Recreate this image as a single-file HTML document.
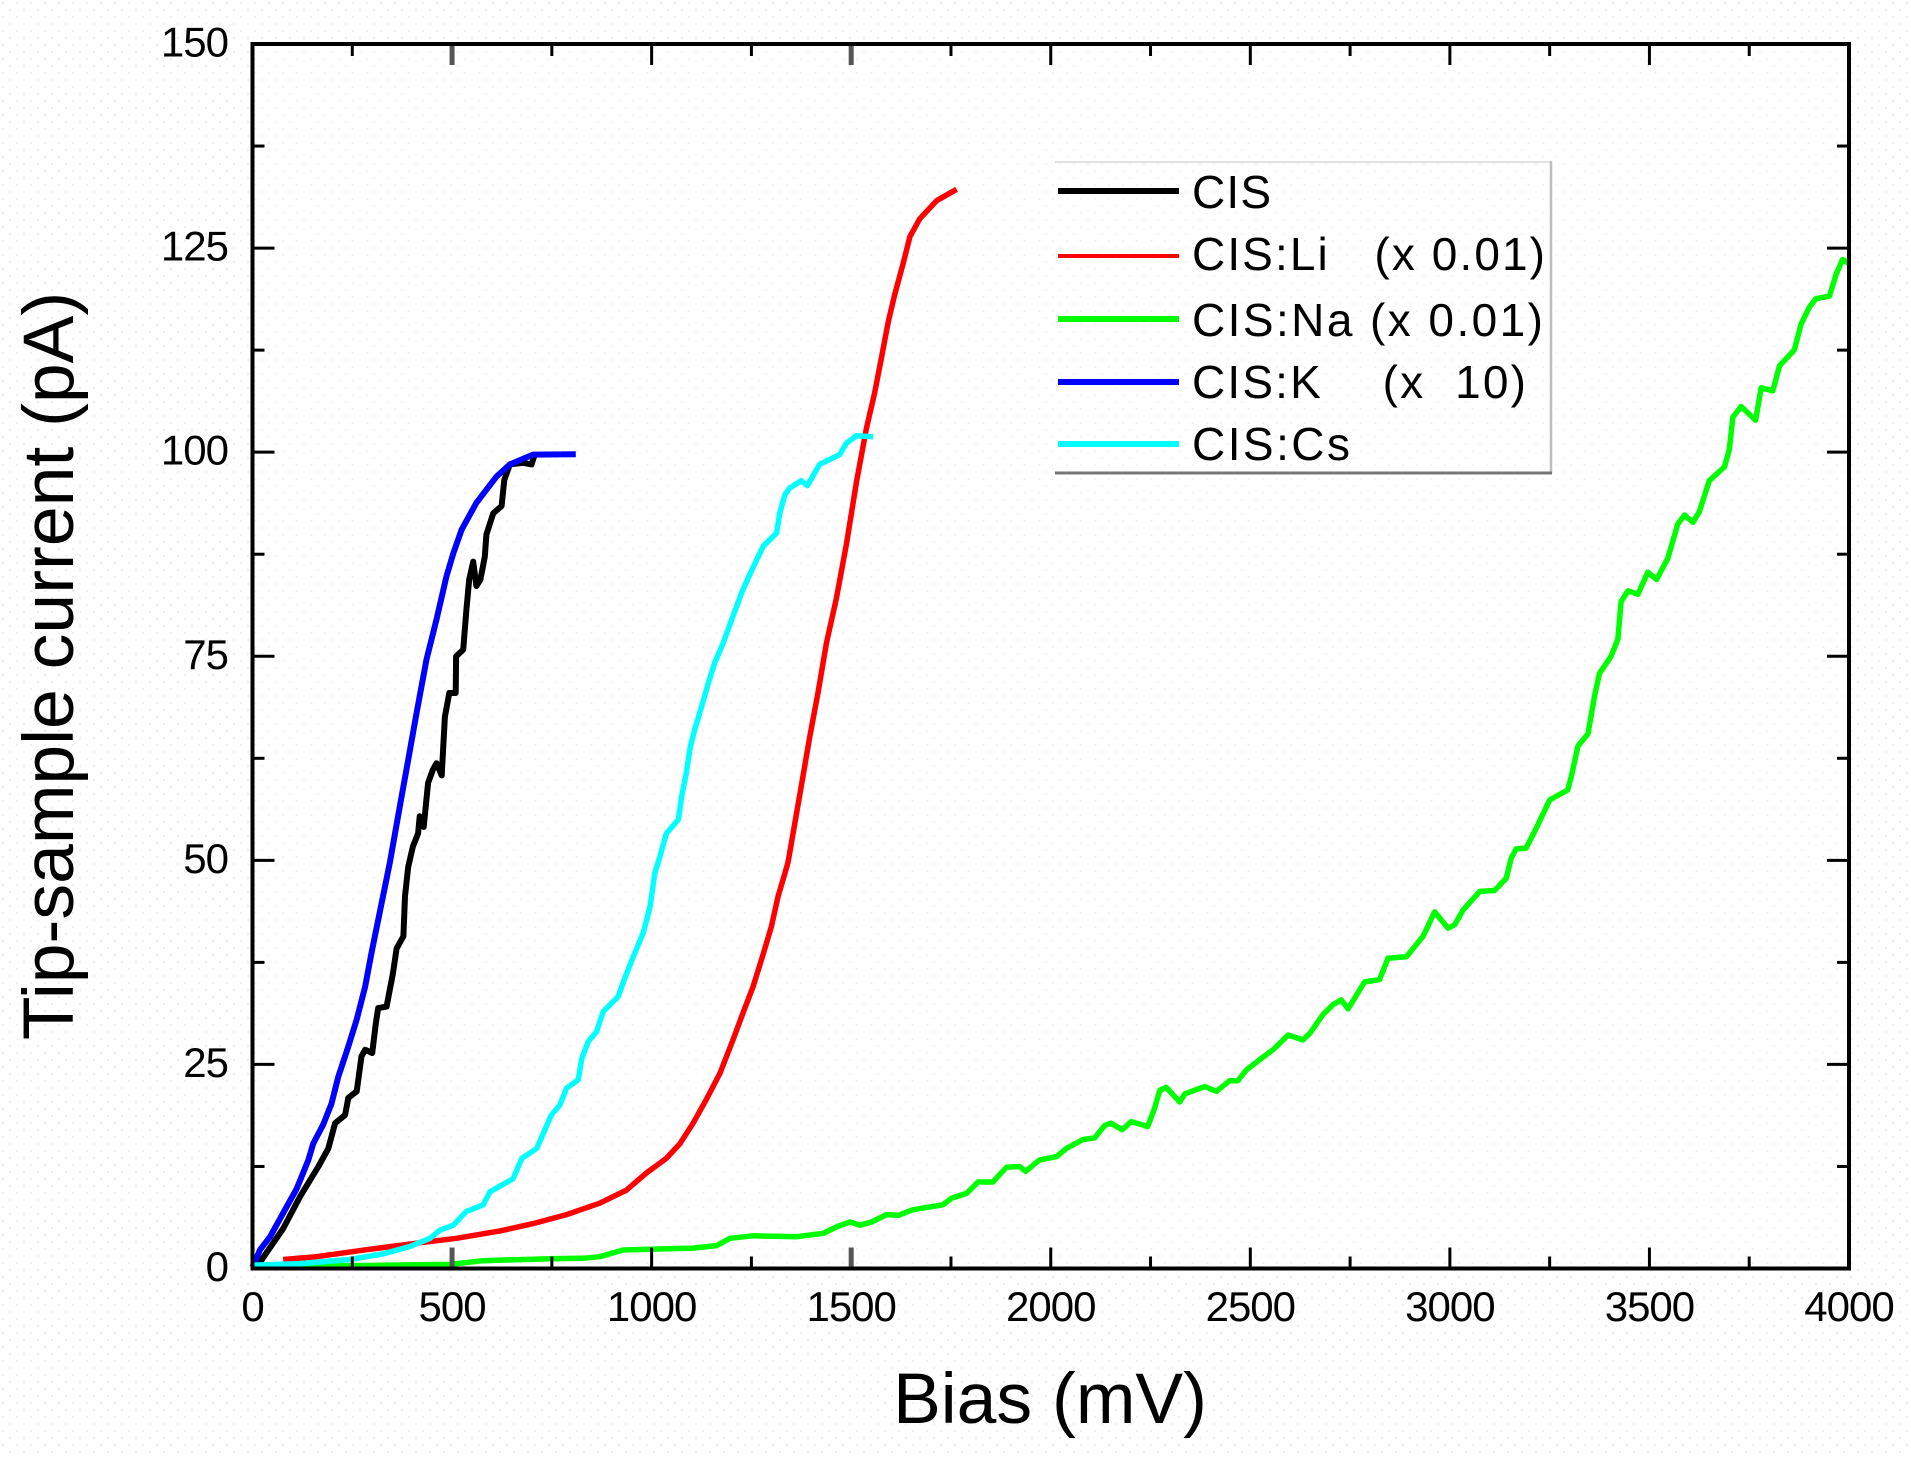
<!DOCTYPE html>
<html lang="en">
<head>
<meta charset="utf-8">
<title>Tip-sample current vs bias</title>
<style>
html,body{margin:0;padding:0;background:#fff;width:1911px;height:1458px;overflow:hidden}
svg{display:block;font-family:"Liberation Sans",sans-serif}
text{fill:#000}
</style>
</head>
<body>
<svg id="chart" xmlns="http://www.w3.org/2000/svg" width="1911" height="1458" viewBox="0 0 1911 1458">
  <defs>
    <pattern id="dots" width="14" height="14" patternUnits="userSpaceOnUse">
      <rect x="2" y="2" width="2" height="2" fill="#eef2f2"/>
      <rect x="9" y="9" width="2" height="2" fill="#f6eeee"/>
    </pattern>
  </defs>
  <rect width="1911" height="1458" fill="#fff"/>
  <rect width="1911" height="1458" fill="url(#dots)"/>
  <rect x="252.5" y="44" width="1596.5" height="1224.5" fill="#fff" fill-opacity="0.4"/>
  <g id="series-layer"></g>
  <g id="axis-layer"></g>
  <text x="1050" y="1423" font-size="71.5" text-anchor="middle">Bias (mV)</text>
  <text transform="translate(73,666) rotate(-90)" font-size="71.5" text-anchor="middle">Tip-sample current (pA)</text>
  <g>
    <line x1="1055" y1="162" x2="1551" y2="162" stroke="#e2e2e2" stroke-width="2"/>
    <line x1="1551" y1="161" x2="1551" y2="473" stroke="#bdbdbd" stroke-width="2.5"/>
    <line x1="1055" y1="473" x2="1552" y2="473" stroke="#777" stroke-width="3"/>
    <g>
      <line x1="1058" y1="191" x2="1179" y2="191" stroke="#000" stroke-width="6"/>
      <text x="1192" y="208" font-size="46" textLength="79" lengthAdjust="spacing" style="white-space:pre">CIS</text>
    </g>
    <g>
      <line x1="1058" y1="256" x2="1179" y2="256" stroke="#f00" stroke-width="4"/>
      <text x="1192" y="270" font-size="46" textLength="353" lengthAdjust="spacing" style="white-space:pre">CIS:Li   (x 0.01)</text>
    </g>
    <g>
      <line x1="1058" y1="319" x2="1179" y2="319" stroke="#0f0" stroke-width="6"/>
      <text x="1192" y="336" font-size="46" textLength="351" lengthAdjust="spacing" style="white-space:pre">CIS:Na (x 0.01)</text>
    </g>
    <g>
      <line x1="1058" y1="382" x2="1179" y2="382" stroke="#00f" stroke-width="6"/>
      <text x="1192" y="398" font-size="46" textLength="334" lengthAdjust="spacing" style="white-space:pre">CIS:K    (x  10)</text>
    </g>
    <g>
      <line x1="1058" y1="444" x2="1179" y2="444" stroke="#0ff" stroke-width="6"/>
      <text x="1192" y="460" font-size="46" textLength="158" lengthAdjust="spacing" style="white-space:pre">CIS:Cs</text>
    </g>
  </g>
</svg>
<script>
const xMajorTicks = [0,500,1000,1500,2000,2500,3000,3500,4000];
const xMinorTicks = [250,750,1250,1750,2250,2750,3250,3750];
const yMajorTicks = [0,25,50,75,100,125,150];
const yMinorTicks = [12.5,37.5,62.5,87.5,112.5,137.5];

const biasCIS = [0,19,77,119,165,190,207,232,240,261,273,282,300,309,315,336,352,361,378,382,390,402,415,419,429,440,452,461,474,482,493,509,510,528,536,543,553,561,571,582,586,603,624,631,645,678,699,707];
const currentCIS = [0.2,0.8,4.9,8.8,12.5,14.7,17.8,18.8,20.9,21.7,26,26.8,26.4,30,31.9,32.1,36.2,39.2,40.7,45.6,49.2,51.7,53.3,55.4,54.1,59.5,61.1,61.9,60.4,67.6,70.5,70.5,75,75.8,80.7,84.4,86.6,83.6,84.4,87.2,89.9,92.5,93.4,96.6,98.5,98.7,98.5,99.7];

const biasLi = [77,160,286,411,511,620,703,787,870,937,987,1037,1071,1104,1137,1171,1204,1229,1254,1280,1300,1317,1334,1342,1375,1396,1417,1438,1463,1488,1513,1538,1559,1576,1593,1609,1630,1647,1672,1714,1764];
const currentLi = [1.1,1.45,2.3,3.1,3.7,4.6,5.5,6.6,8,9.6,11.7,13.5,15.3,17.8,20.7,23.9,28,31.3,34.5,38.6,41.9,45.6,48.4,49.8,59.1,65.1,70.6,76.6,82.1,88.7,96.3,102.9,107.3,111.6,116,119.3,123.1,126.4,128.6,130.8,132.2];

const biasNa = [0,144,495,578,745,829,870,929,1104,1163,1196,1254,1363,1430,1468,1497,1522,1551,1589,1618,1655,1730,1751,1789,1818,1855,1889,1922,1937,1972,2014,2039,2081,2110,2135,2151,2179,2202,2243,2260,2273,2289,2323,2336,2386,2415,2448,2469,2490,2524,2557,2595,2632,2649,2682,2707,2728,2745,2786,2824,2845,2891,2933,2962,2995,3012,3033,3075,3112,3141,3154,3166,3191,3216,3250,3295,3304,3321,3346,3363,3375,3404,3421,3429,3446,3471,3496,3518,3546,3571,3588,3609,3625,3650,3688,3700,3709,3730,3766,3780,3809,3826,3863,3880,3901,3917,3951,3968,3984,4000];
const currentNa = [0.2,0.3,0.5,0.95,1.2,1.25,1.45,2.27,2.5,2.8,3.7,4,3.9,4.3,5.2,5.7,5.3,5.7,6.6,6.5,7.2,7.8,8.6,9.2,10.6,10.6,12.4,12.5,11.9,13.3,13.7,14.7,15.8,16,17.5,17.8,17,18,17.4,19.6,21.8,22.2,20.4,21.4,22.3,21.7,23,23,24.3,25.6,26.8,28.6,28,28.8,31.1,32.3,32.9,31.8,35.1,35.4,38,38.2,40.7,43.7,41.7,42.1,43.9,46.2,46.3,47.8,50.3,51.4,51.5,53.9,57.4,58.6,60.2,64,65.5,70.3,72.9,75,77.1,81.7,83,82.6,85.3,84.4,87,91.2,92.3,91.4,92.7,96.5,98.2,100.3,104.3,105.6,103.9,107.9,107.5,110.6,112.5,115.7,117.8,118.8,119.1,121.8,123.6,123.1];

const biasK = [0,19,44,77,111,140,152,177,198,215,240,261,282,298,315,332,344,369,390,411,436,461,486,503,524,561,611,645,703,810];
const currentK = [0.2,2.3,3.9,6.8,9.8,13.3,15.3,17.6,20.2,23.5,27.2,30.5,34.5,38.6,42.7,46.8,49.7,56.6,62.3,68,74.6,79.5,84.8,87.6,90.5,93.8,97,98.5,99.7,99.75];

const biasCs = [0,119,244,328,394,445,470,503,536,578,595,653,675,712,729,749,770,787,816,825,841,862,879,916,933,954,979,996,1008,1021,1037,1067,1075,1087,1097,1108,1125,1142,1158,1179,1204,1225,1242,1263,1280,1313,1321,1334,1346,1375,1390,1421,1471,1488,1513,1555];
const currentCs = [0.4,0.6,1.1,1.8,2.7,3.7,4.7,5.3,7,7.8,9.4,11,13.5,14.7,16.6,18.8,20,22.1,23.1,25.7,27.8,29,31.5,33.3,35.6,38.2,41.1,44.3,48.4,50.5,53.3,55,57.8,60.7,63.9,66,68.8,71.7,74.2,76.6,79.9,82.7,84.6,86.8,88.5,90.1,92.5,94.8,95.6,96.5,95.9,98.5,99.7,101.1,102,101.9];

const NS = 'http://www.w3.org/2000/svg';
const plot = {left:252.5, right:1849, top:44, bottom:1268.5};
const xMax = 4000, yMax = 150;
function xScale(v){ return plot.left + v/xMax*(plot.right-plot.left); }
function yScale(v){ return plot.bottom - v/yMax*(plot.bottom-plot.top); }
function mk(tag, attrs, parent){
  const el = document.createElementNS(NS, tag);
  for (const k in attrs) el.setAttribute(k, attrs[k]);
  parent.appendChild(el);
  return el;
}
const axisLayer = document.getElementById('axis-layer');
const seriesLayer = document.getElementById('series-layer');

function drawSeries(name, xs, ys, color, w){
  const pts = xs.map((x,i)=>xScale(x).toFixed(1)+','+yScale(ys[i]).toFixed(1)).join(' ');
  const el = mk('polyline',{points:pts,fill:'none',stroke:color,'stroke-width':w,'stroke-linejoin':'round','stroke-linecap':'butt'},seriesLayer);
  
  
}
drawSeries('series-cis', biasCIS, currentCIS, '#000', 6);
drawSeries('series-cis-li', biasLi, currentLi, '#f00', 5.5);
drawSeries('series-cis-na', biasNa, currentNa, '#0f0', 5.5);
drawSeries('series-cis-k', biasK, currentK, '#00f', 6);
drawSeries('series-cis-cs', biasCs, currentCs, '#0ff', 5.5);

function drawXTick(v, len, major){
  const x = xScale(v);
  const grayTick = major && (v===500 || v===1500);
  const stroke = grayTick ? '#555' : '#000';
  const w = grayTick ? 5 : 3;
  const bottomTick = mk('line',{x1:x,x2:x,y1:plot.bottom,y2:plot.bottom-len,stroke:stroke,'stroke-width':w},axisLayer);
  
  
  const topTick = mk('line',{x1:x,x2:x,y1:plot.top,y2:plot.top+len,stroke:stroke,'stroke-width':w},axisLayer);
  
  
}
function drawYTick(v, len){
  const y = yScale(v);
  const leftTick = mk('line',{x1:plot.left,x2:plot.left+len,y1:y,y2:y,stroke:'#000','stroke-width':3},axisLayer);
  
  
  const rightTick = mk('line',{x1:plot.right,x2:plot.right-len,y1:y,y2:y,stroke:'#000','stroke-width':3},axisLayer);
  
  
}
xMinorTicks.forEach(v=>drawXTick(v,12,false));
xMajorTicks.forEach(v=>{ if(v>0 && v<xMax) drawXTick(v,21,true); });
yMinorTicks.forEach(v=>drawYTick(v,12));
yMajorTicks.forEach(v=>{ if(v>0 && v<yMax) drawYTick(v,22); });

const frame = mk('rect',{x:plot.left,y:plot.top,width:plot.right-plot.left,height:plot.bottom-plot.top,fill:'none',stroke:'#000','stroke-width':4},axisLayer);



xMajorTicks.forEach(v=>{
  const t = mk('text',{x:xScale(v),y:1321,'font-size':42,'letter-spacing':-1,'text-anchor':'middle'},axisLayer);
  t.textContent = String(v);
  
  
});
yMajorTicks.forEach(v=>{
  const t = mk('text',{x:228,y:yScale(v)+12.5,'font-size':42,'letter-spacing':-1,'text-anchor':'end'},axisLayer);
  t.textContent = String(v);
  
  
});
</script>
</body>
</html>
